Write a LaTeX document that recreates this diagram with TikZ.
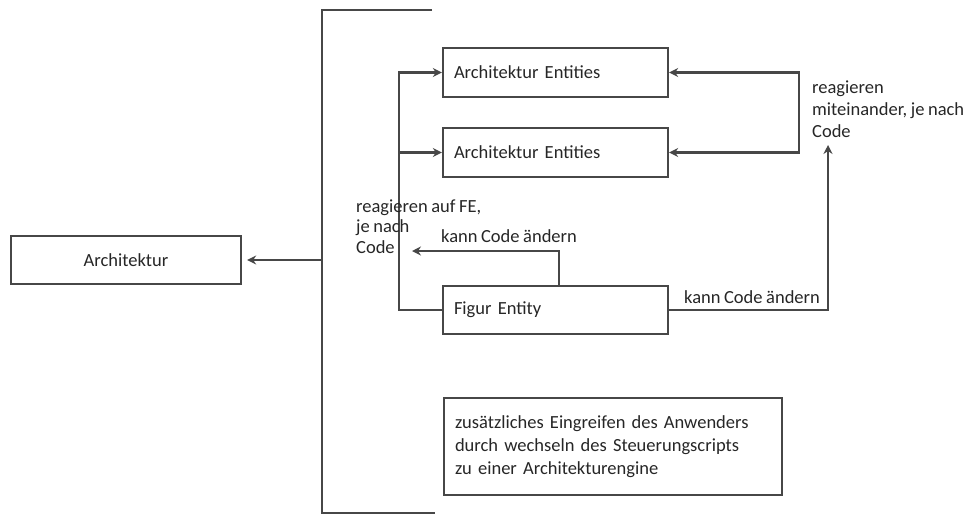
\documentclass[tikz,border=0pt]{standalone}
\usepackage{fontspec}
\setmainfont{Carlito}[WordSpace=0.85]
\usetikzlibrary{arrows.meta}
\begin{document}
\begin{tikzpicture}[x=1pt,y=-1pt,
  line width=2.3pt, draw=black!72,
  >={Stealth[length=9pt,width=9pt,inset=3pt]},
  box/.style={draw=black!72, line width=2.3pt, inner sep=0pt, font=\fontsize{18.5}{21}\selectfont, text=black!85},
  lbl/.style={inner sep=0pt, align=left, anchor=base west, font=\fontsize{18.5}{20.5}\selectfont, text=black!85}]
\useasboundingbox (0,0) rectangle (970,515);
% boxes
\node[box, minimum width=230pt, minimum height=48pt] (arch) at (126,260) {Architektur};
\node[box, minimum width=225pt, minimum height=49pt, text width=203pt, align=left] (e1) at (555.5,72.5) {Architektur Entities};
\node[box, minimum width=225pt, minimum height=49pt, text width=203pt, align=left] (e2) at (555.5,152.5) {Architektur Entities};
\node[box, minimum width=225pt, minimum height=48pt, text width=203pt, align=left] (fig) at (555.5,310) {Figur Entity};
\node[box, minimum width=338pt, minimum height=97pt, text width=316pt, align=left, font=\fontsize{18.5}{23}\selectfont] (note) at (613,446.5) {zusätzliches Eingreifen des Anwenders\\durch wechseln des Steuerungscripts\\zu einer Architekturengine};
% bracket
\coordinate (bt) at (432,10);
\coordinate (bb) at (435,513);
\coordinate (bx) at (322,262);
\draw[line cap=butt] (bt) -- (322,10) -- (322,513) -- (bb);
\draw[->] (arch.east -| bx) -- ([xshift=5pt]arch.east);
% left tree
\coordinate (lx) at (399,72.5);
\draw[->] (fig.west) -- (fig.west -| lx) |- (e1.west);
\draw[->] (lx |- e2.west) -- (e2.west);
% kann Code aendern (left)
\coordinate (kc) at (412,251);
\draw[->] (fig.north -| 559,0) |- (kc);
% right loop
\coordinate (rx) at (799,100);
\draw[<->] (e1.east) -- (e1.east -| rx) -- (e2.east -| rx) -- (e2.east);
% right arrow
\coordinate (ru) at (828,145);
\draw[->] (fig.east) -| (ru);
% labels (base = baseline of last line)
\node[lbl] (l1) at (355,253) {reagieren auf FE,\\je nach\\Code};
\node[lbl] (l2) at (440,242) {kann Code ändern};
\node[lbl, font=\fontsize{18.5}{22}\selectfont] (l3) at (811,137) {reagieren\\miteinander, je nach\\Code};
\node[lbl] (l4) at (683,303) {kann Code ändern};
\end{tikzpicture}
\end{document}
